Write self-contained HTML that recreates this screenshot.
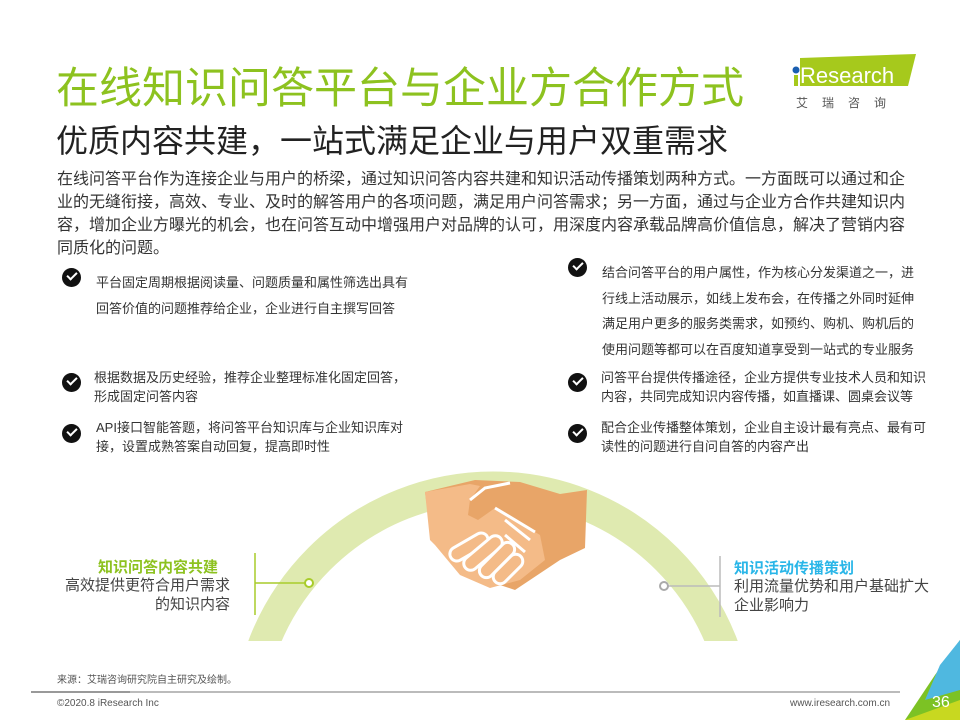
<!DOCTYPE html>
<html><head><meta charset="utf-8"><style>
html,body{margin:0;width:960px;height:720px;overflow:hidden}
body{position:relative;background:#fff;font-family:"Liberation Sans","Noto Sans CJK SC",sans-serif;color:#333}
.a{position:absolute;white-space:nowrap}
.ck{position:absolute;width:19px;height:19px;border-radius:50%;background:#111}
.ck:after{content:"";position:absolute;left:5px;top:4px;width:8px;height:4px;border-left:2.5px solid #fff;border-bottom:2.5px solid #fff;transform:rotate(-45deg)}
.t{position:absolute;font-size:13px;color:#333;white-space:nowrap}
</style></head><body>
<div class="a" style="left:56px;top:54px;font-size:43px;color:#8dc21f">在线知识问答平台与企业方合作方式</div>
<div class="a" style="left:56px;top:116px;font-size:32px;color:#222">优质内容共建，一站式满足企业与用户双重需求</div>
<svg class="a" style="left:790px;top:52px" width="130" height="60">
<polygon points="10,6 126,2 118,34 10,34" fill="#a6c91c"/>
<circle cx="6" cy="18" r="3.5" fill="#1a5eb0"/>
<rect x="4" y="23" width="4" height="11" fill="#a6c91c"/>
<text x="10" y="31" font-size="22" fill="#fff" font-family="Liberation Sans">Research</text>
<text x="6" y="55" font-size="12" fill="#555" letter-spacing="14" font-family="Noto Sans CJK SC">艾瑞咨询</text>
</svg>
<div class="a" style="left:57px;top:168px;font-size:16px;line-height:23px;color:#333">在线问答平台作为连接企业与用户的桥梁，通过知识问答内容共建和知识活动传播策划两种方式。一方面既可以通过和企<br>业的无缝衔接，高效、专业、及时的解答用户的各项问题，满足用户问答需求；另一方面，通过与企业方合作共建知识内<br>容，增加企业方曝光的机会，也在问答互动中增强用户对品牌的认可，用深度内容承载品牌高价值信息，解决了营销内容<br>同质化的问题。</div>

<div class="ck" style="left:62px;top:268px"></div>
<div class="t" style="left:96px;top:270px;line-height:26px">平台固定周期根据阅读量、问题质量和属性筛选出具有<br>回答价值的问题推荐给企业，企业进行自主撰写回答</div>
<div class="ck" style="left:62px;top:373px"></div>
<div class="t" style="left:94px;top:368px;line-height:19px">根据数据及历史经验，推荐企业整理标准化固定回答，<br>形成固定问答内容</div>
<div class="ck" style="left:62px;top:424px"></div>
<div class="t" style="left:96px;top:418px;line-height:19px">API接口智能答题，将问答平台知识库与企业知识库对<br>接，设置成熟答案自动回复，提高即时性</div>

<div class="ck" style="left:568px;top:258px"></div>
<div class="t" style="left:602px;top:260px;line-height:25.5px">结合问答平台的用户属性，作为核心分发渠道之一，进<br>行线上活动展示，如线上发布会，在传播之外同时延伸<br>满足用户更多的服务类需求，如预约、购机、购机后的<br>使用问题等都可以在百度知道享受到一站式的专业服务</div>
<div class="ck" style="left:568px;top:373px"></div>
<div class="t" style="left:601px;top:368px;line-height:19px">问答平台提供传播途径，企业方提供专业技术人员和知识<br>内容，共同完成知识内容传播，如直播课、圆桌会议等</div>
<div class="ck" style="left:568px;top:424px"></div>
<div class="t" style="left:601px;top:418px;line-height:19px">配合企业传播整体策划，企业自主设计最有亮点、最有可<br>读性的问题进行自问自答的内容产出</div>

<svg class="a" style="left:0;top:0" width="960" height="720">
<circle cx="493" cy="733" r="246" fill="none" stroke="#dfeab0" stroke-width="31"/>
<rect x="0" y="641" width="960" height="79" fill="#fff"/>
<polygon points="425,492 475,480 520,482 560,494 587,490 585,548 560,560 515,590 470,575 435,540 430,530" fill="#e8a568"/>
<polygon points="425,492 470,484 480,486 470,500 468,515 478,520 495,508 540,535 545,560 520,580 490,588 460,575 435,545 430,540" fill="#f4bb88"/>
<path d="M470,500 L485,488 L510,483" fill="none" stroke="#fff" stroke-width="3"/>
<path d="M495,508 L535,532 M505,520 L530,540 M505,535 L525,552" stroke="#fff" stroke-width="3" fill="none"/>
<g fill="#f4bb88" stroke="#fff" stroke-width="3">
<rect x="448" y="540" width="42" height="14" rx="7" transform="rotate(-30 469 547)"/>
<rect x="460" y="546" width="46" height="14" rx="7" transform="rotate(-40 483 553)"/>
<rect x="475" y="553" width="44" height="14" rx="7" transform="rotate(-45 497 560)"/>
<rect x="490" y="562" width="36" height="14" rx="7" transform="rotate(-45 508 569)"/>
</g>
<line x1="255" y1="553" x2="255" y2="615" stroke="#a8cc2a" stroke-width="1.5"/>
<line x1="255" y1="583" x2="307" y2="583" stroke="#a8cc2a" stroke-width="1.5"/>
<circle cx="309" cy="583" r="4" fill="#fff" stroke="#a8cc2a" stroke-width="2"/>
<line x1="720" y1="556" x2="720" y2="617" stroke="#bbb" stroke-width="1.5"/>
<line x1="667" y1="586" x2="720" y2="586" stroke="#bbb" stroke-width="1.5"/>
<circle cx="664" cy="586" r="4" fill="#fff" stroke="#aaa" stroke-width="2"/>
<line x1="31" y1="692" x2="900" y2="692" stroke="#bbb" stroke-width="2"/>
<line x1="31" y1="692" x2="130" y2="692" stroke="#999" stroke-width="2"/>
<polygon points="960,640 960,720 905,720 935,675" fill="#7cc224"/>
<polygon points="960,640 940,665 925,700 960,690" fill="#4fb8e0"/>
<polygon points="905,720 960,700 960,720" fill="#c8d820"/>
</svg>
<div class="a" style="left:98px;top:556px;font-size:15px;font-weight:bold;color:#8dc21f">知识问答内容共建</div>
<div class="a" style="left:50px;top:576px;font-size:15px;line-height:19px;color:#444;text-align:right;width:180px">高效提供更符合用户需求<br>的知识内容</div>
<div class="a" style="left:734px;top:557px;font-size:15px;font-weight:bold;color:#29b6e8">知识活动传播策划</div>
<div class="a" style="left:734px;top:577px;font-size:15px;line-height:19px;color:#444">利用流量优势和用户基础扩大<br>企业影响力</div>
<div class="a" style="left:57px;top:671px;font-size:10px;color:#555">来源：艾瑞咨询研究院自主研究及绘制。</div>
<div class="a" style="left:57px;top:698px;font-size:10px;color:#555">©2020.8 iResearch Inc</div>
<div class="a" style="left:790px;top:698px;font-size:10px;color:#555">www.iresearch.com.cn</div>
<div class="a" style="left:932px;top:694px;font-size:16px;line-height:18px;color:#fff">36</div>
</body></html>
